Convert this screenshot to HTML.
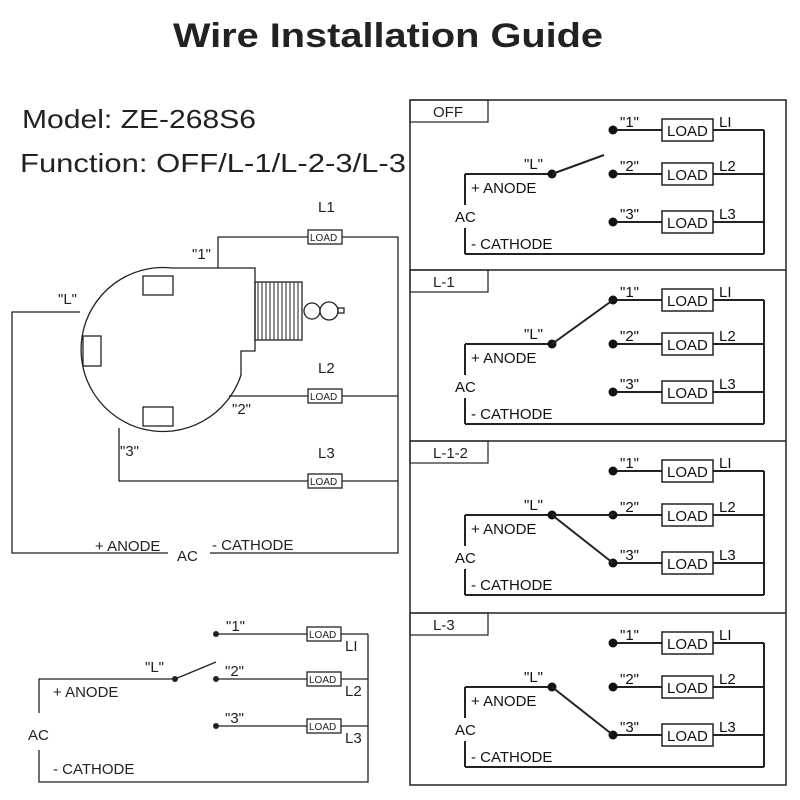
<!DOCTYPE html>
<html><head><meta charset="utf-8"><style>html,body{margin:0;padding:0;background:#fff}svg{display:block}</style></head>
<body>
<svg width="800" height="800" viewBox="0 0 800 800" xmlns="http://www.w3.org/2000/svg" font-family="Liberation Sans, sans-serif" fill="none" stroke="#222">
<defs>
<g id="panel">
  <line x1="465" y1="174" x2="552" y2="174" stroke-width="2"/>
  <line x1="465" y1="174" x2="465" y2="205" stroke-width="2"/>
  <line x1="465" y1="228" x2="465" y2="254" stroke-width="2"/>
  <line x1="465" y1="254" x2="764" y2="254" stroke-width="2"/>
  <line x1="764" y1="130" x2="764" y2="254" stroke-width="2"/>
  <line x1="613" y1="130" x2="662" y2="130" stroke-width="2"/>
  <line x1="713" y1="130" x2="764" y2="130" stroke-width="2"/>
  <line x1="613" y1="174" x2="662" y2="174" stroke-width="2"/>
  <line x1="713" y1="174" x2="764" y2="174" stroke-width="2"/>
  <line x1="613" y1="222" x2="662" y2="222" stroke-width="2"/>
  <line x1="713" y1="222" x2="764" y2="222" stroke-width="2"/>
  <rect x="662" y="119" width="51" height="22" stroke-width="1.5" fill="#fff"/>
  <rect x="662" y="163" width="51" height="22" stroke-width="1.5" fill="#fff"/>
  <rect x="662" y="211" width="51" height="22" stroke-width="1.5" fill="#fff"/>
  <g fill="#111" stroke="none">
    <circle cx="552" cy="174" r="4.5"/><circle cx="613" cy="130" r="4.5"/><circle cx="613" cy="174" r="4.5"/><circle cx="613" cy="222" r="4.5"/>
    <g font-size="15">
    <text x="667" y="136">LOAD</text><text x="667" y="180">LOAD</text><text x="667" y="228">LOAD</text>
    <text x="620" y="127">"1"</text><text x="620" y="171">"2"</text><text x="620" y="219">"3"</text>
    <text x="524" y="169">"L"</text>
    <text x="719" y="127">LI</text><text x="719" y="171">L2</text><text x="719" y="219">L3</text>
    <text x="471" y="193">+ ANODE</text><text x="455" y="222">AC</text><text x="471" y="249">- CATHODE</text>
    </g>
  </g>
</g>
</defs>
<g fill="#222" stroke="none">
<text x="173" y="47" font-size="34" font-weight="bold" textLength="430" lengthAdjust="spacingAndGlyphs">Wire Installation Guide</text>
<text x="22" y="128" font-size="26" textLength="234" lengthAdjust="spacingAndGlyphs">Model: ZE-268S6</text>
<text x="20" y="172" font-size="26" textLength="386" lengthAdjust="spacingAndGlyphs">Function: OFF/L-1/L-2-3/L-3</text>
</g>
<rect x="410" y="100" width="376" height="685" stroke-width="1.5"/>
<line x1="410" y1="270" x2="786" y2="270" stroke-width="1.5"/>
<line x1="410" y1="441" x2="786" y2="441" stroke-width="1.5"/>
<line x1="410" y1="613" x2="786" y2="613" stroke-width="1.5"/>
<g stroke-width="1.2">
<rect x="410" y="100" width="78" height="22"/>
<rect x="410" y="270" width="78" height="22"/>
<rect x="410" y="441" width="78" height="22"/>
<rect x="410" y="613" width="78" height="22"/>
</g>
<g fill="#222" stroke="none" font-size="15">
<text x="433" y="117">OFF</text><text x="433" y="287">L-1</text><text x="433" y="458">L-1-2</text><text x="433" y="630">L-3</text>
</g>
<use href="#panel"/>
<line x1="552" y1="174" x2="604" y2="155" stroke-width="2"/>
<use href="#panel" transform="translate(0,170)"/>
<line x1="552" y1="344" x2="613" y2="300" stroke-width="2"/>
<use href="#panel" transform="translate(0,341)"/>
<line x1="552" y1="515" x2="613" y2="563" stroke-width="2"/>
<line x1="552" y1="515" x2="613" y2="515" stroke-width="2"/>
<use href="#panel" transform="translate(0,513)"/>
<line x1="552" y1="687" x2="613" y2="735" stroke-width="2"/>

<g stroke-width="1.3">
<path d="M172 268 L255 268 L255 351 L241 351 L241 375 A82 82 0 1 1 172 268 Z" fill="#fff"/>
<rect x="143" y="276" width="30" height="19"/>
<rect x="83" y="336" width="18" height="30"/>
<rect x="143" y="407" width="30" height="19"/>
<rect x="255" y="282" width="47" height="58"/>
<path d="M258 282 V340 M262 282 V340 M266 282 V340 M270 282 V340 M274 282 V340 M278 282 V340 M282 282 V340 M286 282 V340 M290 282 V340 M294 282 V340 M298 282 V340" stroke-width="1"/>
<circle cx="312" cy="311" r="8" fill="#fff"/>
<circle cx="329" cy="311" r="9" fill="#fff"/>
<rect x="338" y="308" width="6" height="5"/>
<polyline points="218,268 218,237 398,237 398,553 210,553"/>
<polyline points="229,396 398,396"/>
<polyline points="119,428 119,481 398,481"/>
<polyline points="80,312 12,312 12,553 168,553"/>
<rect x="308" y="230" width="34" height="14" fill="#fff"/>
<rect x="308" y="389" width="34" height="14" fill="#fff"/>
<rect x="308" y="474" width="34" height="14" fill="#fff"/>
</g>
<g fill="#222" stroke="none">
<g font-size="10"><text x="310" y="241">LOAD</text><text x="310" y="400">LOAD</text><text x="310" y="485">LOAD</text></g>
<g font-size="15">
<text x="318" y="212">L1</text><text x="318" y="373">L2</text><text x="318" y="458">L3</text>
<text x="192" y="259">"1"</text><text x="58" y="304">"L"</text><text x="232" y="414">"2"</text><text x="120" y="456">"3"</text>
<text x="95" y="551">+ ANODE</text><text x="177" y="561">AC</text><text x="212" y="550">- CATHODE</text>
</g>
</g>

<g stroke-width="1.3">
<polyline points="39,713 39,679 175,679"/>
<polyline points="39,750 39,782 368,782 368,634"/>
<line x1="175" y1="679" x2="216" y2="662"/>
<line x1="216" y1="634" x2="368" y2="634"/>
<line x1="216" y1="679" x2="368" y2="679"/>
<line x1="216" y1="726" x2="368" y2="726"/>
<rect x="307" y="627" width="34" height="14" fill="#fff"/>
<rect x="307" y="672" width="34" height="14" fill="#fff"/>
<rect x="307" y="719" width="34" height="14" fill="#fff"/>
</g>
<g fill="#222" stroke="none">
<circle cx="175" cy="679" r="3"/><circle cx="216" cy="634" r="3"/><circle cx="216" cy="679" r="3"/><circle cx="216" cy="726" r="3"/>
<g font-size="10"><text x="309" y="638">LOAD</text><text x="309" y="683">LOAD</text><text x="309" y="730">LOAD</text></g>
<g font-size="15">
<text x="226" y="631">"1"</text><text x="225" y="676">"2"</text><text x="225" y="723">"3"</text>
<text x="145" y="672">"L"</text>
<text x="345" y="651">LI</text><text x="345" y="696">L2</text><text x="345" y="743">L3</text>
<text x="53" y="697">+ ANODE</text><text x="28" y="740">AC</text><text x="53" y="774">- CATHODE</text>
</g>
</g>
</svg>
</body></html>
